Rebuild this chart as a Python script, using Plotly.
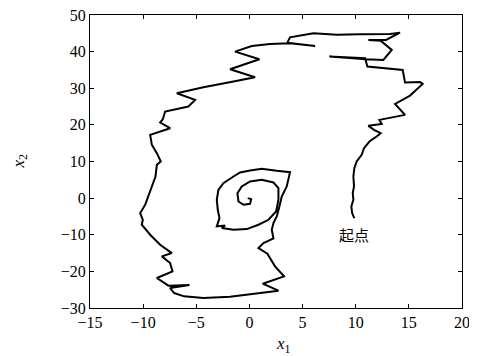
import plotly.graph_objects as go

x1 = [9.87, 9.66, 9.59, 9.78, 9.72, 9.84, 9.78, 9.87, 10.09, 10.56, 10.78, 11.29, 11.97, 12.35, 11.72, 11.19,
      12.45, 12.23, 14.64, 13.70, 15.11, 16.30, 16.05, 14.64, 14.42, 12.92, 11.10, 10.88, 7.52, 10.97,
      12.60, 13.39, 12.35, 11.19, 12.85, 14.17, 13.23, 10.41, 8.21, 6.02, 4.76, 3.82, 3.57, 6.18, 3.82,
      1.94, 0.22, -1.35, 0.94, -1.82, 0.53, -1.50, -4.33, -6.83, -5.11, -5.74, -7.93, -8.15, -8.40, -7.46,
      -9.34, -9.18, -8.71, -8.34, -8.71, -8.84, -9.18, -9.59, -9.81, -10.28, -10.03, -10.13, -9.34, -8.40,
      -7.30, -8.24, -7.46, -7.24, -8.71, -7.62, -5.64, -7.46, -7.08, -6.14, -4.33, -1.82, 1.32, 2.73,
      1.25, 2.10, 3.26, 2.41, 1.69, 0.85, 1.32, 2.26, 2.10, 2.26, 2.57, 2.82, 3.04, 3.51, 3.67, 3.82,
      2.57, 1.16, 0.06, -0.88, -1.50, -2.45, -2.92, -3.07, -2.98, -2.82, -3.07, -2.29, -2.60, -1.50,
      -0.25, 0.85, 1.79, 2.51, 2.73, 2.73, 2.26, 1.16, 0.06, -0.72, -1.13, -1.03, -0.56, 0.06, 0.16, -0.16]
x2 = [-5.45, -4.09, -2.27, -0.45, 1.36, 3.18, 5.91, 8.18, 10.0, 11.82, 13.64, 15.45, 16.82, 17.73, 18.64, 19.73,
      20.27, 21.36, 22.73, 25.73, 28.0, 31.18, 31.73, 31.55, 35.0, 35.45, 35.91, 38.18, 38.64, 37.91,
      37.73, 40.45, 43.0, 43.18, 43.18, 45.18, 44.82, 44.73, 44.64, 45.0, 44.45, 43.91, 42.45, 41.55, 42.27,
      42.09, 41.55, 40.0, 37.91, 35.18, 33.0, 31.82, 30.27, 28.64, 26.82, 25.0, 23.64, 21.55, 20.64, 19.09,
      17.27, 14.55, 12.27, 10.0, 9.09, 5.91, 3.18, 0.0, -1.82, -4.09, -5.91, -7.27, -10.0, -12.73,
      -15.0, -15.91, -17.73, -20.0, -21.82, -23.91, -23.73, -24.55, -25.91, -26.82, -27.27, -26.91, -25.73, -25.27,
      -23.36, -22.45, -21.36, -18.64, -15.18, -13.64, -12.27, -11.0, -8.64, -6.82, -5.0, -2.27, 0.45, 3.18, 5.45, 7.09,
      7.45, 8.0, 7.55, 7.0, 5.91, 4.09, 2.27, -0.45, -3.18, -5.45, -7.73, -7.45, -8.18, -8.64,
      -8.45, -7.27, -5.91, -3.64, -0.45, 2.73, 4.27, 5.0, 4.55, 3.18, 1.36, -0.91, -1.82, -1.55, -0.27, 0.0]

x_ticks = [-15, -10, -5, 0, 5, 10, 15, 20]
y_ticks = [-30, -20, -10, 0, 10, 20, 30, 40, 50]
x_ticktext = ["\u221215", "\u221210", "\u22125", "0", "5", "10", "15", "20"]
y_ticktext = ["\u221230", "\u221220", "\u221210", "0", "10", "20", "30", "40", "50"]
start_label = "起点"
start_pos = [9.85, -10.0]

SERIF = "Liberation Serif, Times New Roman, serif"

fig = go.Figure()
fig.add_trace(go.Scatter(x=x1, y=x2, mode="lines", line=dict(color="black", width=2), showlegend=False))
fig.add_annotation(x=start_pos[0], y=start_pos[1], text=start_label, showarrow=False,
                   font=dict(family="Noto Sans CJK SC", size=15, color="black"))
# axis titles
fig.add_annotation(xref="paper", yref="paper", x=0.519, y=0, yshift=-37, yanchor="middle",
                   text="<i>x</i><sub>1</sub>", showarrow=False,
                   font=dict(family=SERIF, size=17, color="black"))
fig.add_annotation(xref="paper", yref="paper", x=0, xshift=-71, y=0.5, xanchor="center", yanchor="middle",
                   text="<i>x</i><sub>2</sub>", showarrow=False, textangle=-90,
                   font=dict(family=SERIF, size=17, color="black"))

axis_common = dict(showline=True, linecolor="black", linewidth=1, mirror="ticks", ticks="inside",
                   ticklen=4, tickcolor="black", showgrid=False, zeroline=False, automargin=False,
                   ticklabeloverflow="allow",
                   tickfont=dict(family=SERIF, size=16, color="black"))
fig.update_xaxes(range=[-15, 20], tickvals=x_ticks, ticktext=x_ticktext, **axis_common)
fig.update_yaxes(range=[-30, 50], tickvals=y_ticks, ticktext=y_ticktext, **axis_common)
# page body adds an 8px offset, so the figure is shrunk by that amount
fig.update_layout(width=469, height=348, margin=dict(l=82, r=15, t=7, b=48),
                  plot_bgcolor="white", paper_bgcolor="white")
fig.write_html("out.html")
